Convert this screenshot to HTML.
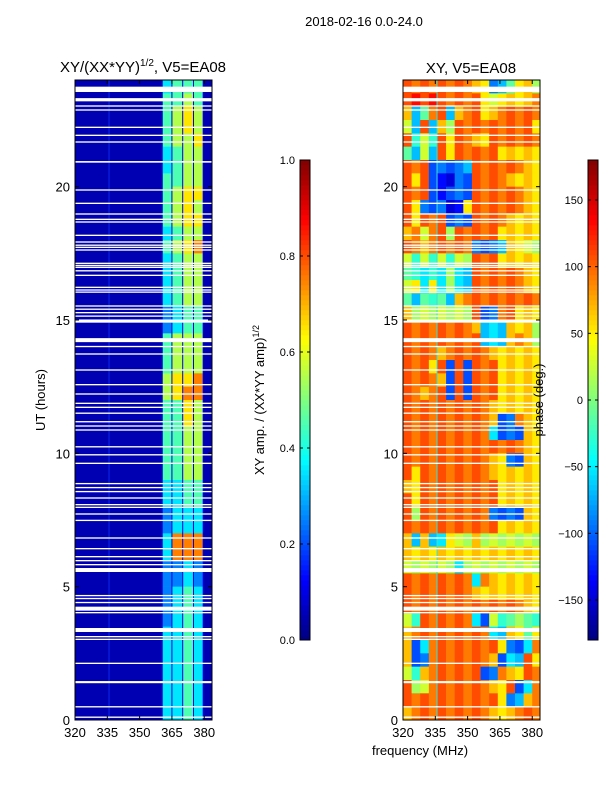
<!DOCTYPE html>
<html><head><meta charset="utf-8"><style>
html,body{margin:0;padding:0;background:#fff;}
svg{display:block;font-family:"Liberation Sans",sans-serif;}
</style></head><body>
<svg id="fig" width="600" height="800" viewBox="0 0 600 800" xmlns="http://www.w3.org/2000/svg">
<text x="364" y="26" font-size="13" text-anchor="middle">2018-02-16 0.0-24.0</text>
<text x="143" y="72" font-size="15" text-anchor="middle">XY/(XX*YY)<tspan font-size="10" dy="-6">1/2</tspan><tspan dy="6">, V5=EA08</tspan></text>
<text x="471" y="73" font-size="15" text-anchor="middle">XY, V5=EA08</text>
<text x="420" y="755" font-size="13" text-anchor="middle">frequency (MHz)</text>
<text x="45" y="400" font-size="13" text-anchor="middle" transform="rotate(-90 45 400)">UT (hours)</text>
<text x="264" y="400" font-size="13" text-anchor="middle" transform="rotate(-90 264 400)">XY amp. / (XX*YY amp)<tspan font-size="9" dy="-5">1/2</tspan></text>
<g id="layer"></g>
<text x="543" y="400" font-size="13" text-anchor="middle" transform="rotate(-90 543 400)">phase (deg.)</text>
</svg>
<script>
// ---- data ----
const utRange = [0, 24];
const freqRange = [320, 383.6];
const xTicks = [320, 335, 350, 365, 380];
const yTicks = [0, 5, 10, 15, 20];
const ampTicks = [0.0, 0.2, 0.4, 0.6, 0.8, 1.0];
const phaseTicks = [-150, -100, -50, 0, 50, 100, 150];
const ampBackground = 0.05;
const ampBandEdges = [360.5, 365, 370, 375, 379.5];
// amplitude per band (digit/10 - 0.05), rows from UT 23.5 down to 0.0 in 0.5h steps
const ampRows = ["4555","5565","5676","5676","5667","4566","4566","5566","5677","5676","5677","4566","5678","4566","4566","4566","4566","3455","3455","5666","5666","5666","6778","6788","5576","5576","5566","5566","5566","5566","4455","4455","3444","3444","4888","4888","3343","3343","3454","3454","3454","4454","4454","4454","4454","4454","4454","4454"];
const phaseColStart = 320;
const phaseColWidth = 4;
// phase digits d -> -180 + d*40 deg, rows from UT 23.5 down to 0.0
const phaseRows = ["7777777766234665","7878777776566667","6347736776677777","5373657777777776","7454767766777777","4353767777766666","7772222377777766","7672112277776666","7772122277777766","7622211677777766","7677722277776666","6757757777766666","7767777722236655","5454545577766666","4434353377777766","5636353377777766","4344436777777777","6555555572277666","7777777763336665","7777777773336765","7777677777666666","7776727277766666","7777627277766666","7767727277766666","7777777777666666","7777777777622766","7777777777322266","7777777777777766","7777777777662266","7677777777666666","6677777777766666","7677777777766666","7577777777222266","7777777777766666","6363365565555555","6666666666666666","5555553555555555","7777777737666666","7777777766666666","7777777777777766","5477777732544544","6777777777336646","6237777777762237","6227777777623376","5467777772276677","7557777777667237","7777777777762367","6777777777666777"];
// flagged (blank) time ranges: start UT and duration (hours)
const gapUT = [23.55,23.2,23.0,22.85,22.2,21.9,21.65,20.9,19.85,19.35,18.95,18.75,18.65,18.15,17.9,17.78,17.7,17.6,17.1,17.02,16.95,16.82,16.65,16.2,16.1,16.02,15.5,15.38,15.25,15.12,14.9,14.17,13.98,13.7,13.1,12.55,12.2,11.85,11.7,11.48,11.16,11.0,10.85,10.22,9.92,9.6,8.84,8.69,8.54,8.3,8.05,7.95,7.7,7.46,6.8,6.4,6.1,5.95,5.55,5.8,4.64,4.53,4.38,4.1,4.0,3.3,3.1,3.0,2.1,1.38,0.47,0.08];
const gapDur = [0.2,0.12,0.05,0.05,0.05,0.05,0.05,0.06,0.05,0.05,0.05,0.05,0.05,0.05,0.05,0.05,0.05,0.05,0.05,0.05,0.05,0.05,0.05,0.05,0.05,0.05,0.05,0.05,0.05,0.05,0.12,0.15,0.05,0.05,0.05,0.05,0.05,0.05,0.05,0.05,0.05,0.05,0.05,0.05,0.05,0.05,0.05,0.05,0.05,0.05,0.05,0.05,0.05,0.05,0.05,0.05,0.05,0.05,0.15,0.05,0.05,0.05,0.05,0.15,0.05,0.15,0.05,0.05,0.05,0.08,0.05,0.05];

// ---- helpers ----
const NS = "http://www.w3.org/2000/svg";
const layer = document.getElementById('layer');
function mk(tag, attrs, parent) {
  const e = document.createElementNS(NS, tag);
  for (const k in attrs) e.setAttribute(k, attrs[k]);
  (parent || layer).appendChild(e);
  return e;
}
function jet(t) {
  t = Math.max(0, Math.min(1, t));
  const r = Math.max(0, Math.min(1, 1.5 - Math.abs(4 * t - 3)));
  const g = Math.max(0, Math.min(1, 1.5 - Math.abs(4 * t - 2)));
  const b = Math.max(0, Math.min(1, 1.5 - Math.abs(4 * t - 1)));
  return `rgb(${Math.round(r*255)},${Math.round(g*255)},${Math.round(b*255)})`;
}
const yTop = 80, yBot = 720;
function yScale(ut) { return yBot - (ut - utRange[0]) / (utRange[1] - utRange[0]) * (yBot - yTop); }
function makeX(x0, x1) { return f => x0 + (f - freqRange[0]) / (freqRange[1] - freqRange[0]) * (x1 - x0); }
const panels = [{x0: 75, x1: 212, name: 'amp'}, {x0: 403, x1: 540, name: 'phase'}];
const xL = makeX(75, 212), xR = makeX(403, 540);
const rowH = 0.5;

// ---- left heatmap ----
const gL = mk('g', {});


let bg = mk('rect', {x: xL(freqRange[0]), y: yTop, width: xL(ampBandEdges[0]) - xL(freqRange[0]), height: yBot - yTop, fill: jet(ampBackground)}, gL);


let bg2 = mk('rect', {x: xL(ampBandEdges[ampBandEdges.length-1]), y: yTop, width: xL(freqRange[1]) - xL(ampBandEdges[ampBandEdges.length-1]), height: yBot - yTop, fill: jet(ampBackground)}, gL);


ampRows.forEach((row, i) => {
  const ut1 = utRange[1] - i * rowH, ut0 = ut1 - rowH;
  for (let b = 0; b < row.length; b++) {
    const v = parseInt(row[b]) / 10 - 0.05;
    const c = mk('rect', {x: xL(ampBandEdges[b]), y: yScale(ut1), width: xL(ampBandEdges[b+1]) - xL(ampBandEdges[b]), height: yScale(ut0) - yScale(ut1) + 0.3, fill: jet(v)}, gL);
    
    
  }
});
ampBandEdges.forEach(f => {
  const l = mk('line', {x1: xL(f), x2: xL(f), y1: yTop, y2: yBot, stroke: jet(0.1), 'stroke-width': 1}, gL);
  
  
});
mk('line', {x1: xL(335.8), x2: xL(335.8), y1: yTop, y2: yBot, stroke: '#1030ff', 'stroke-width': 0.8}, gL);

// ---- right heatmap ----
const gR = mk('g', {});


phaseRows.forEach((row, i) => {
  const ut1 = utRange[1] - i * rowH, ut0 = ut1 - rowH;
  for (let c = 0; c < row.length; c++) {
    const deg = -180 + parseInt(row[c]) * 40 + (c % 2 === 0 ? 8 : -8);
    const f0 = phaseColStart + c * phaseColWidth;
    const f1 = Math.min(f0 + phaseColWidth, freqRange[1]);
    const r = mk('rect', {x: xR(f0), y: yScale(ut1), width: xR(f1) - xR(f0) + 0.3, height: yScale(ut0) - yScale(ut1) + 0.3, fill: jet((deg + 180) / 360)}, gR);
    
    
  }
});
mk('line', {x1: xR(335.8), x2: xR(335.8), y1: yTop, y2: yBot, stroke: '#40e0d0', 'stroke-width': 1}, gR);

// ---- gaps ----
gapUT.forEach((u, i) => {
  panels.forEach(p => {
    const g = mk('rect', {x: p.x0, y: yScale(u + gapDur[i]), width: p.x1 - p.x0, height: Math.max(1.2, yScale(u) - yScale(u + gapDur[i])), fill: '#fff'});
    
    
  });
});

// ---- axes ----
panels.forEach(p => {
  const xs = makeX(p.x0, p.x1);
  const fr = mk('rect', {x: p.x0, y: yTop, width: p.x1 - p.x0, height: yBot - yTop, fill: 'none', stroke: '#000', 'stroke-width': 1});
  
  
  xTicks.forEach(t => {
    const x = xs(t);
    mk('line', {x1: x, x2: x, y1: yBot, y2: yBot - 4, stroke: '#000'});
    mk('line', {x1: x, x2: x, y1: yTop, y2: yTop + 4, stroke: '#000'});
    const lb = mk('text', {x: x, y: yBot + 17, 'font-size': 13, 'text-anchor': 'middle'});
    lb.textContent = t;
    
    
  });
  yTicks.forEach(t => {
    const y = yScale(t);
    mk('line', {x1: p.x0, x2: p.x0 + 4, y1: y, y2: y, stroke: '#000'});
    mk('line', {x1: p.x1, x2: p.x1 - 4, y1: y, y2: y, stroke: '#000'});
    const lb = mk('text', {x: p.x0 - 5, y: y + 5, 'font-size': 13, 'text-anchor': 'end'});
    lb.textContent = t;
    
    
  });
});

// ---- colorbars ----
function colorbar(x, name, ticks, vmin, vmax, fmt) {
  const y0 = 160, y1 = 640, w = 10, n = 96;
  for (let i = 0; i < n; i++) {
    mk('rect', {x: x, y: y1 - (i + 1) * (y1 - y0) / n, width: w, height: (y1 - y0) / n + 0.3, fill: jet((i + 0.5) / n)});
  }
  const fr = mk('rect', {x: x, y: y0, width: w, height: y1 - y0, fill: 'none', stroke: '#000', 'stroke-width': 1});
  
  
  ticks.forEach(t => {
    const y = y1 - (t - vmin) / (vmax - vmin) * (y1 - y0);
    mk('line', {x1: x, x2: x + 3, y1: y, y2: y, stroke: '#000'});
    mk('line', {x1: x + w, x2: x + w - 3, y1: y, y2: y, stroke: '#000'});
    const lb = mk('text', {x: x - 5, y: y + 4, 'font-size': 11, 'text-anchor': 'end'});
    lb.textContent = fmt(t);
    
    
  });
}
colorbar(300, 'amp', ampTicks, 0, 1, t => t.toFixed(1));
colorbar(588, 'phase', phaseTicks, -180, 180, t => t < 0 ? '\u2212' + Math.abs(t) : String(t));
</script>
</body></html>
